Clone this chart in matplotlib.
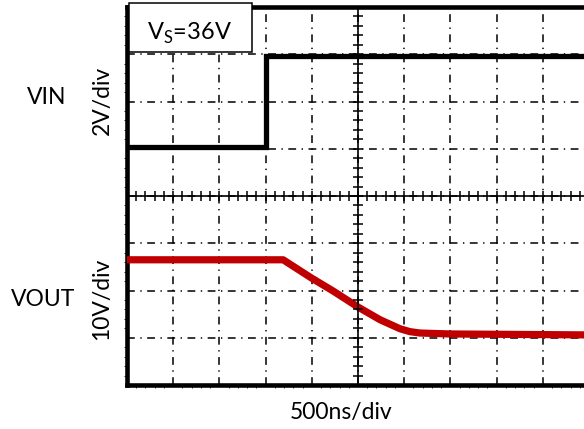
import numpy as np
import matplotlib.pyplot as plt
from matplotlib.patches import Rectangle

plt.rcParams['font.family'] = ['Lato', 'DejaVu Sans']
plt.rcParams['mathtext.fontset'] = 'custom'
plt.rcParams['mathtext.rm'] = 'Lato'

# scope capture, time in ns (500ns/div), traces in screen divisions
t_vin = [0, 1500, 1500, 5000]
vin_div = [1.04, 1.04, 2.97, 2.97]

t_vout = [0, 1690, 2000, 2230, 2413, 2500, 2740, 2955, 3060, 3170, 3500, 5000]
vout_div = [-1.35, -1.35, -1.74, -2.01, -2.24, -2.35, -2.62, -2.81, -2.87, -2.90, -2.92, -2.94]

x_ticks = np.arange(0, 5001, 500)
y_ticks = np.arange(-4, 5, 1)

fig = plt.figure(figsize=(5.84, 4.29), dpi=100)
pos = [127 / 584, 1 - 385 / 429, 462 / 584, 378 / 429]
ax = fig.add_axes(pos)

ax.set_xlim(0, 5000)
ax.set_ylim(-4, 4)
ax.set_xticks(x_ticks)
ax.set_yticks(y_ticks)
ax.tick_params(length=0, labelbottom=False, labelleft=False)
dashdot = (0, (5.1, 3.6, 0.9, 3.6))
ax.grid(True, color='black', linewidth=1.1, linestyle=dashdot)
ax.set_axisbelow(True)
for side in ['left', 'bottom', 'top', 'right']:
    ax.spines[side].set_linewidth(3.3)

ax.plot(t_vin, vin_div, color='black', linewidth=3.8, solid_joinstyle='miter', zorder=3)
ax.plot(t_vout, vout_div, color='#C00000', linewidth=5.2, solid_capstyle='butt',
        solid_joinstyle='round', zorder=3)

# supply voltage tag in the corner
ax.add_patch(Rectangle((0.004, 0.881), 0.266, 0.13, transform=ax.transAxes,
                       facecolor='white', edgecolor='black', linewidth=1.1,
                       zorder=4, clip_on=False))
ax.text(0.136, 0.93, r'V$_\mathregular{S}$=36V', transform=ax.transAxes,
        ha='center', va='center', fontsize=17, zorder=5)

# centre crosshair with 1/5 div ticks
cross = fig.add_axes(pos, sharex=ax, sharey=ax)
cross.patch.set_visible(False)
cross.spines['top'].set_visible(False)
cross.spines['right'].set_visible(False)
cross.spines['left'].set_position(('data', 2500))
cross.spines['bottom'].set_position(('data', 0))
cross.spines['left'].set_linewidth(1.2)
cross.spines['bottom'].set_linewidth(1.2)
cross.set_xticks(x_ticks)
cross.set_yticks(y_ticks)
cross.set_xticks(np.arange(0, 5001, 100), minor=True)
cross.set_yticks(np.arange(-4, 4.01, 0.2), minor=True)
cross.tick_params(which='both', direction='inout', length=7.5, width=1.1,
                  labelbottom=False, labelleft=False)

fig.text(47 / 584, 1 - 98 / 429, 'VIN', ha='center', va='center', fontsize=16.5)
fig.text(102 / 584, 1 - 100 / 429, '2V/div', ha='center', va='center',
         fontsize=16.5, rotation=90)
fig.text(43 / 584, 1 - 299 / 429, 'VOUT', ha='center', va='center', fontsize=16.5)
fig.text(102 / 584, 1 - 299 / 429, '10V/div', ha='center', va='center',
         fontsize=16.5, rotation=90)
fig.text(341 / 584, 1 - 413 / 429, '500ns/div', ha='center', va='center', fontsize=16.5)

fig.savefig('out.png', dpi=100)
